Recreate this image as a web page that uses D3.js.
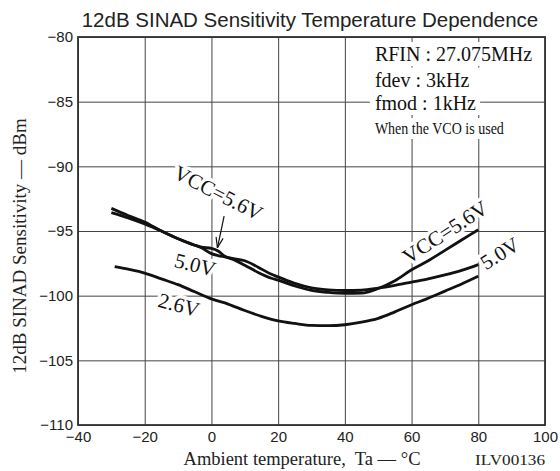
<!DOCTYPE html>
<html>
<head>
<meta charset="utf-8">
<script src="https://cdn.jsdelivr.net/npm/d3@7"></script>
<style>
  html, body { margin: 0; padding: 0; background: #fff; }
  svg { display: block; }
  .serif { font-family: "Liberation Serif", "Times New Roman", serif; }
  .sans { font-family: "Liberation Sans", Arial, sans-serif; }
</style>
</head>
<body>
<div id="chart"></div>
<script>
// axis ticks
const tempTicks = [-40, -20, 0, 20, 40, 60, 80, 100];
const sensTicks = [-80, -85, -90, -95, -100, -105, -110];

// VCC = 5.6V / 5.0V share the same temperature points
const tempHi = [-30, -25, -20, -15, -10, -5, -3, 0, 2, 4, 7, 10, 14, 18, 20, 25, 30, 35, 40, 45, 50, 55, 60, 65, 70, 75, 80];
const vcc56 = [-93.25, -93.8, -94.3, -95.0, -95.6, -96.1, -96.25, -96.35, -96.55, -96.95, -97.25, -97.65, -98.2, -98.65, -98.8, -99.25, -99.6, -99.75, -99.82, -99.8, -99.45, -98.85, -98.0, -97.3, -96.5, -95.7, -94.9];
const vcc50 = [-93.58, -93.98, -94.45, -95.0, -95.6, -96.1, -96.3, -96.75, -96.9, -97.0, -97.15, -97.3, -97.8, -98.35, -98.55, -99.05, -99.4, -99.55, -99.6, -99.58, -99.42, -99.2, -98.95, -98.7, -98.4, -98.05, -97.6];

// VCC = 2.6V
const tempLo = [-29, -25, -20, -15, -10, -5, 0, 5, 10, 15, 20, 25, 30, 35, 40, 45, 50, 55, 60, 65, 70, 75, 80];
const vcc26 = [-97.75, -97.95, -98.25, -98.7, -99.15, -99.7, -100.25, -100.65, -101.15, -101.6, -101.95, -102.15, -102.3, -102.32, -102.25, -102.05, -101.75, -101.25, -100.7, -100.2, -99.65, -99.1, -98.5];

const conditions = ["RFIN : 27.075MHz", "fdev : 3kHz", "fmod : 1kHz", "When the VCO is used"];

const W = 560, H = 471;
const margin = { left: 78, right: 15, top: 37, bottom: 46 };
const iw = W - margin.left - margin.right;
const ih = H - margin.top - margin.bottom;

const svg = d3.select("#chart").append("svg")
  .attr("width", W).attr("height", H);

const x = d3.scaleLinear().domain([-40, 100]).range([0, iw]);
const y = d3.scaleLinear().domain([-110, -80]).range([ih, 0]);
const fmt = d => d < 0 ? "\u2212" + Math.abs(d) : String(d);

svg.append("text").attr("class", "sans")
  .attr("x", 310).attr("y", 27)
  .attr("text-anchor", "middle")
  .attr("font-size", 20.5).attr("fill", "#222")
  .text("12dB SINAD Sensitivity Temperature Dependence");

const g = svg.append("g").attr("transform", `translate(${margin.left},${margin.top})`);

// grid + tick labels via axes
const xAxis = g.append("g").attr("transform", `translate(0,${ih})`)
  .call(d3.axisBottom(x).tickValues(tempTicks).tickSize(-ih).tickPadding(6).tickFormat(fmt));
const yAxis = g.append("g")
  .call(d3.axisLeft(y).tickValues(sensTicks).tickSize(-iw).tickPadding(5).tickFormat(fmt));

[xAxis, yAxis].forEach(a => {
  a.select(".domain").remove();
  a.selectAll("line").attr("stroke", "#444").attr("stroke-width", 1);
  a.selectAll("text").attr("class", "sans").attr("font-size", 15).attr("fill", "#222");
});

// legend block, white boxes knock out the grid behind it
const legend = g.append("g");
const legendY = [24, 49.5, 73, 97];
conditions.forEach((t, i) => {
  const last = i === conditions.length - 1;
  const txt = legend.append("text").attr("class", "serif")
    .attr("x", x(49)).attr("y", legendY[i])
    .attr("font-size", last ? 16.5 : 20).attr("fill", "#111")
    .text(t);
  if (last) txt.attr("textLength", 129).attr("lengthAdjust", "spacingAndGlyphs");
  const b = txt.node().getBBox();
  const right = i === 2 ? b.x + b.width + 4 : iw - 2;
  legend.insert("rect", "text")
    .attr("x", b.x - 5).attr("y", b.y - 1)
    .attr("width", right - b.x + 5).attr("height", b.height + 2)
    .attr("fill", "#fff");
});

// curve labels with white halo
const label = (txt, t, v, rot) => g.append("text").attr("class", "serif")
  .attr("transform", `translate(${x(t)},${y(v)}) rotate(${rot})`)
  .attr("text-anchor", "middle")
  .attr("font-size", 21).attr("fill", "#111")
  .attr("stroke", "#fff").attr("stroke-width", 7).attr("paint-order", "stroke")
  .attr("stroke-linejoin", "round")
  .text(txt);

label("VCC=5.6V", 1.1, -92.55, 27);
label("5.0V", -5.4, -98.15, 14);
label("2.6V", -10.3, -101.25, 15);
label("VCC=5.6V", 71.2, -95.55, -33);
label("5.0V", 87.6, -97.2, -32);

// curves
const line = d3.line().x(d => x(d[0])).y(d => y(d[1])).curve(d3.curveMonotoneX);
const series = [
  d3.zip(tempHi, vcc56),
  d3.zip(tempHi, vcc50),
  d3.zip(tempLo, vcc26)
];
g.selectAll("path.curve").data(series).join("path")
  .attr("class", "curve")
  .attr("d", line)
  .attr("fill", "none")
  .attr("stroke", "#111")
  .attr("stroke-width", 2.8);

// arrow from upper label to 5.6V curve
const ax0 = x(3.8), ay0 = y(-93.85), ax1 = x(1.8), ay1 = y(-96.3);
g.append("line").attr("x1", ax0).attr("y1", ay0).attr("x2", ax1).attr("y2", ay1)
  .attr("stroke", "#111").attr("stroke-width", 1.2);
const ang = Math.atan2(ay1 - ay0, ax1 - ax0);
[-0.33, 0.33].forEach(da => {
  g.append("line").attr("x1", ax1).attr("y1", ay1)
    .attr("x2", ax1 - 11 * Math.cos(ang + da)).attr("y2", ay1 - 11 * Math.sin(ang + da))
    .attr("stroke", "#111").attr("stroke-width", 1.2);
});

// frame
g.append("rect").attr("width", iw).attr("height", ih)
  .attr("fill", "none").attr("stroke", "#333").attr("stroke-width", 1.8);

// axis titles
svg.append("text").attr("class", "serif")
  .attr("transform", `translate(26,246) rotate(-90)`)
  .attr("text-anchor", "middle").attr("font-size", 19).attr("fill", "#222")
  .text("12dB SINAD Sensitivity \u2014 dBm");

svg.append("text").attr("class", "serif")
  .attr("x", 302).attr("y", 465)
  .attr("text-anchor", "middle").attr("font-size", 18.5).attr("fill", "#222")
  .attr("xml:space", "preserve")
  .text("Ambient temperature,  Ta \u2014 \u00b0C");

svg.append("text").attr("class", "serif")
  .attr("x", 545).attr("y", 465)
  .attr("text-anchor", "end").attr("font-size", 15).attr("fill", "#222")
  .attr("textLength", 70).attr("lengthAdjust", "spacingAndGlyphs")
  .text("ILV00136");
</script>
</body>
</html>
